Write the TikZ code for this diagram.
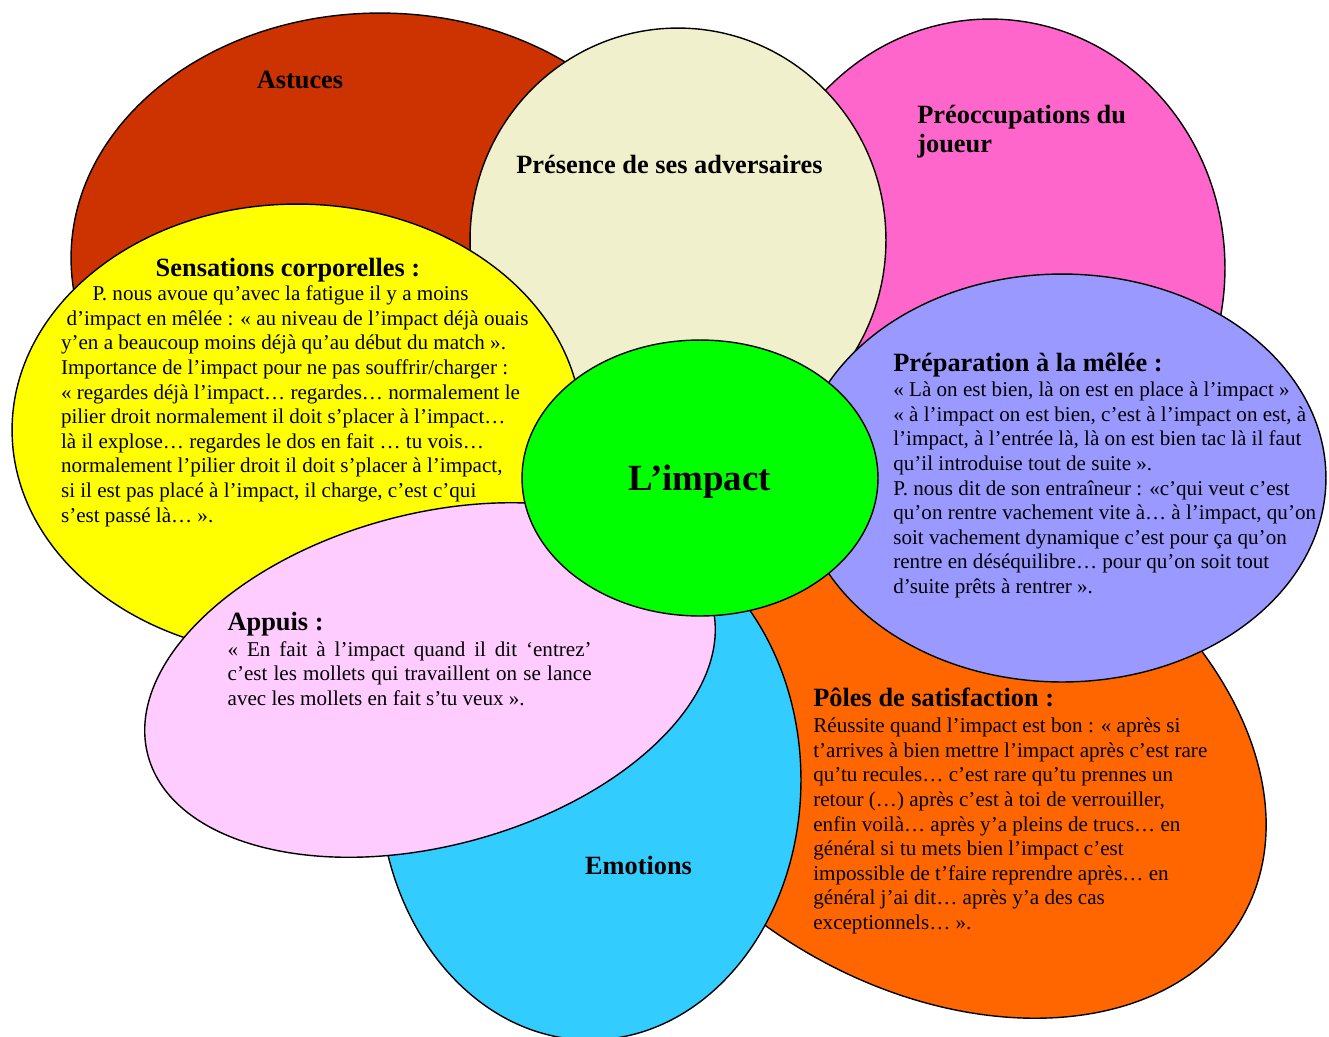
\documentclass[tikz,border=0pt]{standalone}
\usepackage{fontspec}
\setmainfont{Liberation Serif}
\usetikzlibrary{shapes.geometric}
\definecolor{fondAstuces}{HTML}{CC3300}
\definecolor{fondPresence}{HTML}{F0F0CC}
\definecolor{fondPreoc}{HTML}{FF66CC}
\definecolor{fondSensations}{HTML}{FFFF00}
\definecolor{fondPreparation}{HTML}{9999FF}
\definecolor{fondPoles}{HTML}{FF6600}
\definecolor{fondEmotions}{HTML}{33CCFF}
\definecolor{fondAppuis}{HTML}{FFCCFF}
\definecolor{fondImpact}{HTML}{00FF00}

\begin{document}
\begin{tikzpicture}[x=0.02cm,y=-0.02cm]
 \tikzset{petal/.style={ellipse,draw=black,line width=0.8pt,inner sep=0pt},
  titre/.style={font=\fontsize{15}{16.5}\selectfont\bfseries,inner sep=0pt},
  corps/.style={font=\fontsize{12}{14}\selectfont,inner sep=0pt,align=left,anchor=base west}}
 \useasboundingbox (0,0) rectangle (1329,1036);

 \node[petal,fill=fondAstuces,minimum width=12.36cm,minimum height=9.8cm] (astuces) at (380,258) {};
 \node[petal,fill=fondPreoc,minimum width=9.4cm,minimum height=9.96cm] (preoc) at (990,268) {};
 \node[petal,fill=fondPoles,minimum width=14.28cm,minimum height=9.92cm,rotate=-30] (poles) at (933,739) {};
 \node[petal,fill=fondPresence,minimum width=8.32cm,minimum height=8.48cm] (presence) at (678,240) {};
 \node[petal,fill=fondEmotions,minimum width=8.44cm,minimum height=10.4cm] (emotions) at (590,780) {};
 \node[petal,fill=fondSensations,minimum width=11.4cm,minimum height=9.04cm] (sensations) at (297,430) {};
 \node[petal,fill=fondPreparation,minimum width=10.56cm,minimum height=8.16cm] (preparation) at (1062,478) {};
 \node[petal,fill=fondAppuis,minimum width=11.68cm,minimum height=6.64cm,rotate=15] (appuis) at (430,680) {};
 \node[petal,fill=fondImpact,minimum width=7.12cm,minimum height=5.52cm] (impact) at (700,478) {};

 \node[titre,anchor=base] (astucestxt) at (300,88.7) {Astuces};
 \node[titre,anchor=base west] (presencetxt) at (516,173) {Présence de ses adversaires};
 \node[titre,align=left,anchor=base west] (preoctxt) at (917,152.3) {Préoccupations du\\joueur};
 \node[titre,anchor=base] (emotionstxt) at (638.5,874) {Emotions};
 \node[font=\fontsize{21}{24}\selectfont\bfseries,inner sep=0pt,anchor=base] (impacttxt) at (700,490) {L’impact};

 \node[titre,anchor=base] (sensationstitre) at (288,276) {Sensations corporelles :};
 \node[corps] (sensationstxt) at (60.7,522.1) {\hspace*{0.63cm}P. nous avoue qu’avec la fatigue il y a moins\\
\hspace*{0.11cm}d’impact en mêlée : « au niveau de l’impact déjà ouais\\
y’en a beaucoup moins déjà qu’au début du match ».\\
Importance de l’impact pour ne pas souffrir/charger :\\
« regardes déjà l’impact… regardes… normalement le\\
pilier droit normalement il doit s’placer à l’impact…\\
là il explose… regardes le dos en fait … tu vois…\\
normalement l’pilier droit il doit s’placer à l’impact,\\
si il est pas placé à l’impact, il charge, c’est c’qui\\
s’est passé là… ».};

 \node[titre,anchor=base west] (preparationtitre) at (893,371.7) {Préparation à la mêlée :};
 \node[corps] (preparationtxt) at (893,593.5) {« Là on est bien, là on est en place à l’impact »\\
« à l’impact on est bien, c’est à l’impact on est, à\\
l’impact, à l’entrée là, là on est bien tac là il faut\\
qu’il introduise tout de suite ».\\
P. nous dit de son entraîneur : «c’qui veut c’est\\
qu’on rentre vachement vite à… à l’impact, qu’on\\
soit vachement dynamique c’est pour ça qu’on\\
rentre en déséquilibre… pour qu’on soit tout\\
d’suite prêts à rentrer ».};

 \node[titre,anchor=base west] (polestitre) at (813,706.7) {Pôles de satisfaction :};
 \node[corps] (polestxt) at (813,929.5) {Réussite quand l’impact est bon : « après si\\
t’arrives à bien mettre l’impact après c’est rare\\
qu’tu recules… c’est rare qu’tu prennes un\\
retour (…) après c’est à toi de verrouiller,\\
enfin voilà… après y’a pleins de trucs… en\\
général si tu mets bien l’impact c’est\\
impossible de t’faire reprendre après… en\\
général j’ai dit… après y’a des cas\\
exceptionnels… ».};

 \node[titre,anchor=base west] (appuistitre) at (227.3,630.7) {Appuis :};
 \node[corps,text width=7.28cm,align=justify] (appuistxt) at (227.3,656) {\noindent« En fait à l’impact quand il dit ‘entrez’\linebreak
c’est les mollets qui travaillent on se lance\linebreak
avec les mollets en fait s’tu veux ».};
\end{tikzpicture}
\end{document}
